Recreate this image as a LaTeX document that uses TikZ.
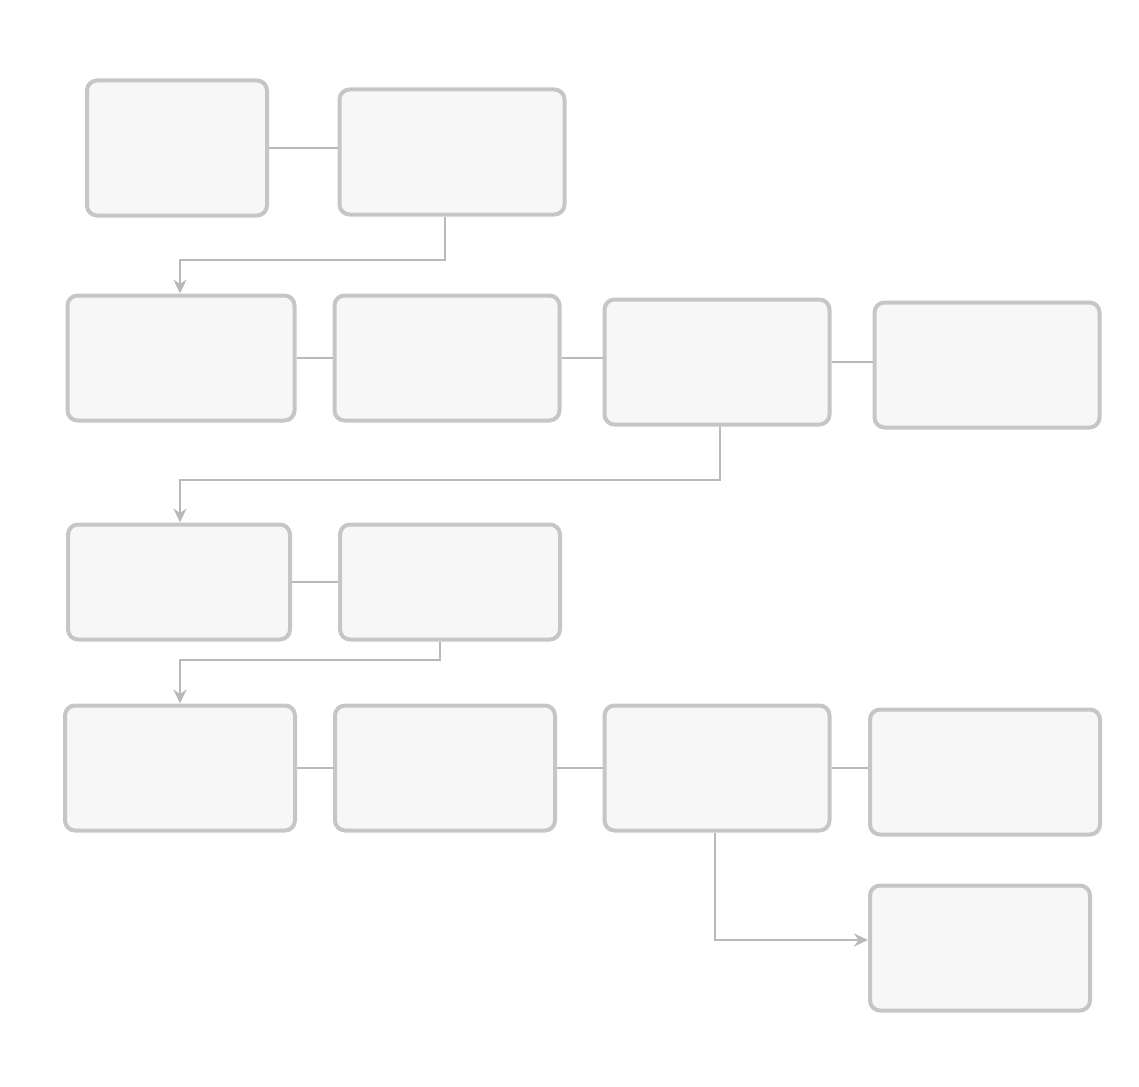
\documentclass[tikz,border=0pt]{standalone}
\usetikzlibrary{arrows.meta}
\begin{document}
\begin{tikzpicture}[x=1pt,y=-1pt,
  box/.style={draw=gray!45, line width=4pt, rounded corners=10pt, fill=gray!6, inner sep=0pt},
  conn/.style={draw=gray!55, line width=2.5pt},
  arr/.style={conn, -{Stealth[length=14pt,width=13pt]}}]
\useasboundingbox (0,0) rectangle (1139,1086);
% row 1
\node[box, minimum width=180pt, minimum height=135pt] (a) at (177,148) {};
\node[box, minimum width=225pt, minimum height=125pt] (b) at (452,152) {};
% row 2
\node[box, minimum width=227pt, minimum height=125pt] (b1) at (181,358) {};
\node[box, minimum width=225pt, minimum height=125pt] (b2) at (447,358) {};
\node[box, minimum width=225pt, minimum height=125pt] (b3) at (717,362) {};
\node[box, minimum width=225pt, minimum height=125pt] (b4) at (987,365) {};
% row 3
\node[box, minimum width=222pt, minimum height=115pt] (c1) at (179,582) {};
\node[box, minimum width=220pt, minimum height=115pt] (c2) at (450,582) {};
% row 4
\node[box, minimum width=230pt, minimum height=125pt] (d1) at (180,768) {};
\node[box, minimum width=220pt, minimum height=125pt] (d2) at (445,768) {};
\node[box, minimum width=225pt, minimum height=125pt] (d3) at (717,768) {};
\node[box, minimum width=230pt, minimum height=125pt] (d4) at (985,772) {};
% bottom
\node[box, minimum width=220pt, minimum height=125pt] (e) at (980,948) {};
% coordinates for bends
\coordinate (k1) at (445,260);
\coordinate (k2) at (180,260);
\coordinate (k3) at (720,480);
\coordinate (k4) at (180,480);
\coordinate (k5) at (440,660);
\coordinate (k6) at (180,660);
\coordinate (k7) at (715,940);
% connectors
\draw[conn] (a.east) -- (a.east -| b.west);
\draw[arr] (b.south -| k1) -- (k1) -- (k2) -- (k2 |- b1.north);
\draw[conn] (b1.east) -- (b1.east -| b2.west);
\draw[conn] (b2.east |- 0,358) -- (b3.west |- 0,358);
\draw[conn] (b3.east |- 0,362) -- (b4.west |- 0,362);
\draw[arr] (b3.south -| k3) -- (k3) -- (k4) -- (k4 |- c1.north);
\draw[conn] (c1.east) -- (c1.east -| c2.west);
\draw[arr] (c2.south -| k5) -- (k5) -- (k6) -- (k6 |- d1.north);
\draw[conn] (d1.east) -- (d1.east -| d2.west);
\draw[conn] (d2.east) -- (d2.east -| d3.west);
\draw[conn] (d3.east) -- (d3.east -| d4.west);
\draw[arr] (d3.south -| k7) -- (k7) -- (k7 -| e.west);
\end{tikzpicture}
\end{document}
